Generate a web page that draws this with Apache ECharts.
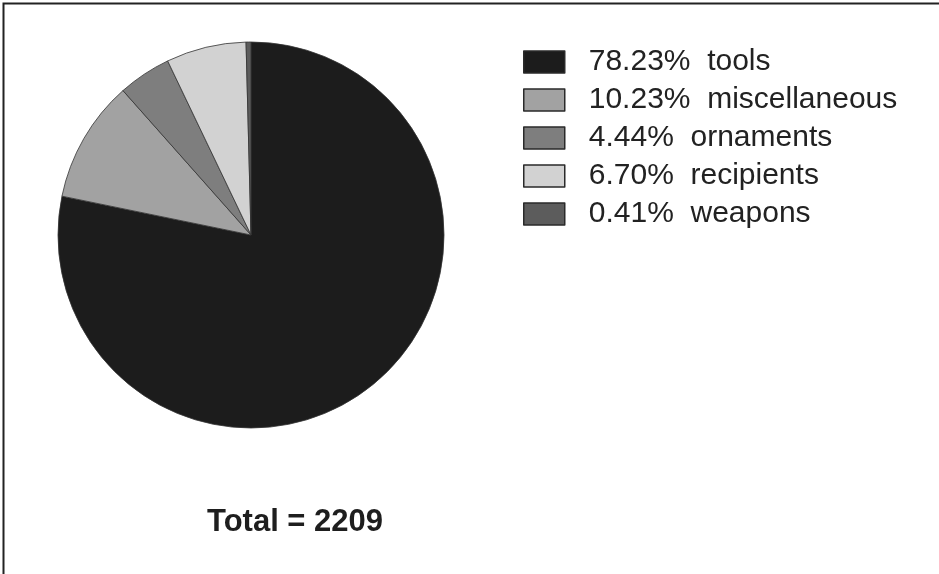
<!DOCTYPE html>
<html>
<head>
<meta charset="utf-8">
<script src="https://cdn.jsdelivr.net/npm/echarts@6/dist/echarts.min.js"></script>
<style>
  html, body { margin: 0; padding: 0; background: #fff; }
  #chart { width: 939px; height: 574px; }
</style>
</head>
<body>
<div id="chart"></div>
<script>
// Artefact categories and their counts
const categories = ['tools', 'miscellaneous', 'ornaments', 'recipients', 'weapons'];
const counts = [1728, 226, 98, 148, 9];
const sliceColors = ['#1c1c1c', '#a2a2a2', '#7e7e7e', '#d2d2d2', '#5c5c5c'];

const total = counts.reduce((a, b) => a + b, 0);
const pctOf = name => (counts[categories.indexOf(name)] / total * 100).toFixed(2) + '%';

const chart = echarts.init(document.getElementById('chart'), null, { renderer: 'canvas' });

chart.setOption({
  animation: false,
  backgroundColor: '#ffffff',
  textStyle: { fontFamily: 'Liberation Sans, Arial, sans-serif' },
  legend: {
    orient: 'vertical',
    left: 518,
    top: 42,
    itemWidth: 41,
    itemHeight: 22,
    itemGap: 8,
    icon: 'rect',
    selectedMode: false,
    data: categories,
    formatter: name => pctOf(name) + '  ' + name,
    itemStyle: { borderColor: '#2a2a2a', borderWidth: 1.5 },
    textStyle: {
      fontSize: 30,
      color: '#222',
      fontFamily: 'Liberation Sans, Arial, sans-serif',
      padding: [0, 0, 0, 19]
    }
  },
  graphic: [
    {
      type: 'rect',
      shape: { x: 3.5, y: 3.5, width: 1000, height: 1000 },
      style: { fill: 'none', stroke: '#222', lineWidth: 2 },
      silent: true
    },
    {
      type: 'text',
      left: 207,
      top: 507,
      style: {
        text: 'Total = ' + total,
        font: 'bold 31px "Liberation Sans", Arial, sans-serif',
        fill: '#1e1e1e'
      }
    }
  ],
  series: [
    {
      type: 'pie',
      center: [251, 235],
      radius: 193,
      startAngle: 90,
      clockwise: true,
      label: { show: false },
      labelLine: { show: false },
      emphasis: { disabled: true },
      itemStyle: { borderColor: '#333', borderWidth: 0.8 },
      data: categories.map((name, i) => ({
        name: name,
        value: counts[i],
        itemStyle: { color: sliceColors[i] }
      }))
    }
  ]
});
</script>
</body>
</html>
